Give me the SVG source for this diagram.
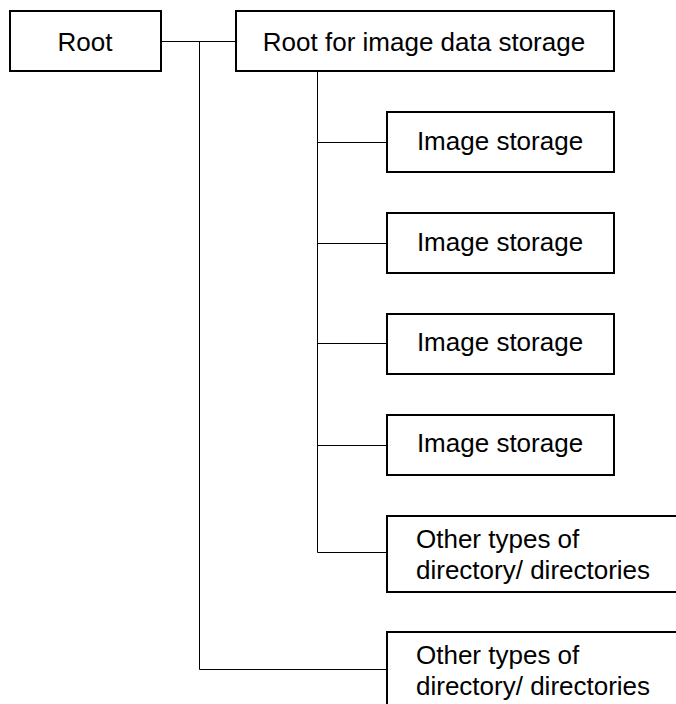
<svg xmlns="http://www.w3.org/2000/svg" width="676" height="704" viewBox="0 0 676 704">
<style>
.box{fill:#fff;stroke:#000;stroke-width:2}
.ln{fill:none;stroke:#000;stroke-width:1}
text{font-family:"Liberation Sans",Arial,sans-serif;font-size:26px;fill:#000}
.c{text-anchor:middle}
</style>
<rect width="676" height="704" fill="#fff"/>
<g id="connectors">
<path class="ln" d="M161 41.5H236M199.5 41.5V669.5H387"/>
<path class="ln" d="M317.5 71V552.5H387"/>
<path class="ln" d="M317.5 142.5H387M317.5 243.5H387M317.5 343.5H387M317.5 445.5H387"/>
</g>
<g id="root"><rect class="box" x="10" y="11" width="151" height="60"/><text class="c" x="85" y="51">Root</text></g>
<g id="imgroot"><rect class="box" x="236" y="11" width="378" height="60"/><text class="c" x="424" y="51">Root for image data storage</text></g>
<g id="img1"><rect class="box" x="387" y="112" width="227" height="60"/><text class="c" x="500" y="149.5">Image storage</text></g>
<g id="img2"><rect class="box" x="387" y="213" width="227" height="60"/><text class="c" x="500" y="250.5">Image storage</text></g>
<g id="img3"><rect class="box" x="387" y="314" width="227" height="60"/><text class="c" x="500" y="351">Image storage</text></g>
<g id="img4"><rect class="box" x="387" y="415" width="227" height="60"/><text class="c" x="500" y="452">Image storage</text></g>
<g id="other1"><rect class="box" x="387" y="516" width="300" height="76"/><text x="416" y="548">Other types of</text><text x="416" y="579">directory/ directories</text></g>
<g id="other2"><rect class="box" x="387" y="632" width="300" height="90"/><text x="416" y="664">Other types of</text><text x="416" y="695">directory/ directories</text></g>
</svg>
